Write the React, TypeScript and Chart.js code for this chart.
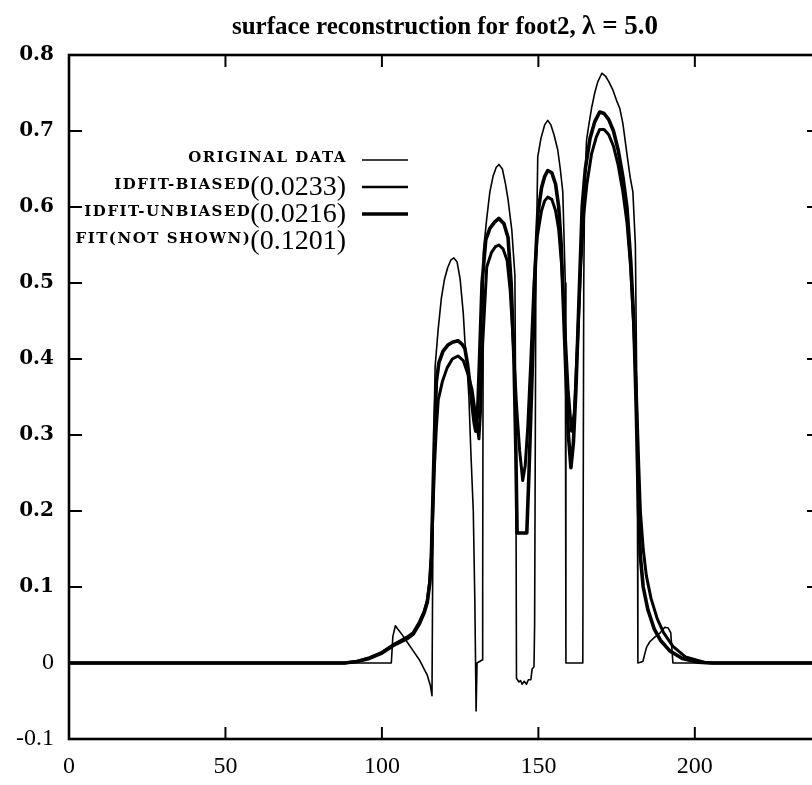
import React, { useEffect, useRef } from 'react';
import { Chart, registerables } from 'chart.js';

Chart.register(...registerables);

const TITLE_TEXT = 'surface reconstruction for foot2, ';
const TITLE_MATH = 'λ = 5.0';

const X_TICKS = [0, 50, 100, 150, 200];
const Y_TICKS = [-0.1, 0, 0.1, 0.2, 0.3, 0.4, 0.5, 0.6, 0.7, 0.8];

const LEGEND_NAMES = ['ORIGINAL DATA', 'IDFIT-BIASED', 'IDFIT-UNBIASED', 'FIT(NOT SHOWN)'];
const LEGEND_SCORES = ['', '(0.0233)', '(0.0216)', '(0.1201)'];

// original data (thin line)
const originalX = [0, 103, 103.5, 104.3, 105, 106.5, 108, 110, 112, 113.5, 114.5, 115.5, 116, 116.2, 116.6, 117, 118, 119, 120, 121, 122, 123, 124, 125, 126, 126.5, 127.2, 127.8, 128.4, 129.2, 129.7, 130.1, 130.4, 132.0, 132.2, 132.4, 133.5, 134.5, 135.5, 136.5, 137.4, 138.5, 139.5, 140.3, 141.5, 142.5, 142.8, 143, 143.8, 144.3, 144.8, 145.5, 146.2, 146.8, 147.6, 148, 148.6, 148.8, 149.2, 149.8, 150.8, 152, 153, 154, 155, 156.2, 157, 157.8, 158.6, 158.8, 164.2, 164.5, 164.8, 165.4, 166.2, 167, 168, 169, 170.3, 171.5, 172.5, 173.8, 175, 176, 177, 178.3, 179.3, 180.2, 181, 181.6, 181.8, 183.4, 184, 184.6, 185.6, 187.2, 189, 190.4, 191.5, 192.3, 193, 240];
const originalY = [0, 0, 0.035, 0.049, 0.045, 0.037, 0.028, 0.016, 0.004, -0.008, -0.016, -0.03, -0.043, 0.1, 0.3, 0.39, 0.44, 0.48, 0.505, 0.52, 0.53, 0.533, 0.528, 0.505, 0.46, 0.425, 0.39, 0.35, 0.28, 0.2, 0.08, -0.063, 0.0, 0.004, 0.1, 0.54, 0.585, 0.62, 0.64, 0.652, 0.656, 0.65, 0.63, 0.61, 0.57, 0.51, 0.3, -0.02, -0.025, -0.023, -0.028, -0.024, -0.028, -0.022, -0.022, -0.008, -0.005, 0.05, 0.5, 0.666, 0.69, 0.708, 0.714, 0.708, 0.695, 0.675, 0.65, 0.62, 0.5, 0, 0, 0.5, 0.63, 0.688, 0.71, 0.73, 0.75, 0.765, 0.776, 0.772, 0.765, 0.754, 0.74, 0.73, 0.71, 0.67, 0.64, 0.62, 0.55, 0.3, 0, 0.002, 0.012, 0.021, 0.028, 0.034, 0.04, 0.047, 0.046, 0.04, 0, 0];

// IDFIT-BIASED (lower peaks)
const biasedX = [0, 88, 92, 96, 100, 104, 108, 110, 112, 113.5, 114.5, 115.3, 115.8, 116.3, 116.8, 117.4, 118, 119.3, 120.8, 122.5, 124.3, 126, 127.5, 128.8, 129.8, 130.5, 131, 131.5, 132.2, 133.5, 135, 136.3, 137.4, 138.7, 140, 141, 142, 143, 144, 145, 145.8, 146.6, 147.6, 148.6, 149.6, 151, 152, 153, 154.3, 155.5, 156.5, 157.5, 158.5, 159.5, 160.6, 161.5, 162.5, 163.5, 164.5, 165.5, 167, 168.5, 169.6, 171, 172.5, 174, 175.5, 177, 178.3, 179.5, 180.5, 181.3, 182, 182.6, 183.5, 184.5, 186, 188, 190, 193, 197, 203, 206, 240];
const biasedY = [0, 0, 0.002, 0.007, 0.014, 0.025, 0.034, 0.04, 0.054, 0.068, 0.082, 0.108, 0.14, 0.2, 0.26, 0.31, 0.346, 0.37, 0.388, 0.4, 0.404, 0.398, 0.38, 0.36, 0.33, 0.31, 0.295, 0.33, 0.42, 0.521, 0.54, 0.548, 0.55, 0.545, 0.53, 0.49, 0.42, 0.34, 0.28, 0.24, 0.26, 0.31, 0.4, 0.5, 0.56, 0.595, 0.608, 0.613, 0.61, 0.595, 0.57, 0.52, 0.44, 0.36, 0.305, 0.33, 0.42, 0.52, 0.59, 0.63, 0.67, 0.692, 0.702, 0.702, 0.695, 0.68, 0.655, 0.62, 0.58, 0.52, 0.44, 0.36, 0.27, 0.2, 0.15, 0.115, 0.085, 0.058, 0.04, 0.022, 0.008, 0.001, 0, 0];

// IDFIT-UNBIASED (higher peaks)
const unbiasedX = [0, 88, 92, 96, 100, 104, 108, 110, 112, 113.5, 114.5, 115.3, 115.8, 116.3, 116.8, 117.4, 118.2, 119.5, 121, 122.5, 124.3, 125.5, 126.5, 127.3, 128.1, 128.8, 129.5, 130, 130.6, 131.2, 132, 133.2, 134.5, 136, 137.4, 139, 140.3, 141.3, 142.2, 142.8, 143.2, 146.3, 147, 148, 149, 149.8, 151, 152, 153, 154.3, 155.5, 156.5, 157.3, 158, 158.8, 159.6, 160.4, 161.2, 162, 163, 164, 165, 166.5, 168, 169.6, 171, 172.5, 174, 175.5, 177, 178.3, 179.5, 180.5, 181.3, 182, 182.6, 183.5, 185, 187, 189, 192, 196, 201, 205, 240];
const unbiasedY = [0, 0, 0.002, 0.006, 0.013, 0.024, 0.032, 0.038, 0.052, 0.066, 0.08, 0.105, 0.14, 0.22, 0.3, 0.37, 0.395, 0.41, 0.418, 0.422, 0.424, 0.42, 0.414, 0.395, 0.368, 0.34, 0.316, 0.305, 0.33, 0.4, 0.5, 0.557, 0.572, 0.58, 0.585, 0.578, 0.56, 0.5, 0.4, 0.28, 0.171, 0.171, 0.25, 0.38, 0.52, 0.59, 0.625, 0.64, 0.648, 0.645, 0.63, 0.6, 0.55, 0.47, 0.38, 0.3, 0.257, 0.29, 0.36, 0.48, 0.6, 0.65, 0.69, 0.712, 0.725, 0.723, 0.715, 0.7, 0.675, 0.64, 0.6, 0.53, 0.45, 0.33, 0.2, 0.14, 0.1, 0.07, 0.045, 0.03, 0.016, 0.006, 0.001, 0, 0];

const zip = (xs: number[], ys: number[]) => xs.map((x, i) => ({ x, y: ys[i] }));

const LINE_WIDTHS = [1.6, 3.0, 3.6];
const LEGEND_LINE_WIDTHS = [1.6, 2.6, 3.4];

const decorPlugin = {
  id: 'decor',
  afterDraw(chart: any) {
    const { ctx, chartArea: a, scales } = chart;
    ctx.save();
    ctx.strokeStyle = '#000';
    ctx.fillStyle = '#000';
    ctx.lineCap = 'butt';
    const seg = (x1: number, y1: number, x2: number, y2: number) => {
      ctx.beginPath();
      ctx.moveTo(x1, y1);
      ctx.lineTo(x2, y2);
      ctx.stroke();
    };
    // frame
    ctx.lineWidth = 2.6;
    ctx.strokeRect(a.left, a.top, a.right - a.left, a.bottom - a.top);
    // inward ticks
    ctx.lineWidth = 2;
    scales.x.ticks.forEach((t: any) => {
      const px = scales.x.getPixelForValue(t.value);
      if (px <= a.left + 2 || px >= a.right - 2) return;
      seg(px, a.bottom, px, a.bottom - 12);
      seg(px, a.top, px, a.top + 12);
    });
    scales.y.ticks.forEach((t: any) => {
      const py = scales.y.getPixelForValue(t.value);
      if (py <= a.top + 2 || py >= a.bottom - 2) return;
      seg(a.left, py, a.left + 13, py);
      seg(a.right, py, a.right - 13, py);
    });
    // title
    ctx.textBaseline = 'alphabetic';
    ctx.textAlign = 'left';
    const f1 = 'bold 25px "Liberation Serif"';
    const f2 = 'bold 27px "Liberation Serif"';
    ctx.font = f1;
    const w1 = ctx.measureText(TITLE_TEXT).width;
    ctx.font = f2;
    const w2 = ctx.measureText(TITLE_MATH).width;
    const cx = 445;
    const x0 = cx - (w1 + w2) / 2;
    const ty = 34;
    ctx.font = f1;
    ctx.fillText(TITLE_TEXT, x0, ty);
    ctx.font = f2;
    ctx.fillText(TITLE_MATH, x0 + w1, ty);
    // legend
    const rowY = [160, 187, 214, 241];
    const textRight = 346;
    LEGEND_NAMES.forEach((name, i) => {
      const y = rowY[i];
      const score = LEGEND_SCORES[i];
      ctx.textAlign = 'right';
      (ctx as any).letterSpacing = '0px';
      ctx.font = '28px "Liberation Serif"';
      const sw = score ? ctx.measureText(score).width : 0;
      if (score) ctx.fillText(score, textRight, y + 8);
      ctx.font = 'bold 15px "DejaVu Serif"';
      (ctx as any).letterSpacing = '1.5px';
      ctx.fillText(name, textRight - sw + 1, y + 2);
      (ctx as any).letterSpacing = '0px';
      if (i < LEGEND_LINE_WIDTHS.length) {
        ctx.lineWidth = LEGEND_LINE_WIDTHS[i];
        seg(362, y, 408, y);
      }
    });
    ctx.restore();
  },
};

export default function App() {
  const ref = useRef<HTMLCanvasElement | null>(null);
  useEffect(() => {
    if (!ref.current) return;
    const series = [zip(originalX, originalY), zip(biasedX, biasedY), zip(unbiasedX, unbiasedY)];
    const chart = new Chart(ref.current, {
      type: 'scatter',
      data: {
        datasets: series.map((d, i) => ({
          label: LEGEND_NAMES[i],
          data: d,
          showLine: true,
          borderColor: '#000',
          backgroundColor: '#000',
          borderWidth: LINE_WIDTHS[i],
          pointRadius: 0,
          tension: 0,
          borderJoinStyle: 'round' as const,
        })),
      },
      options: {
        responsive: false,
        animation: false,
        events: [],
        layout: { padding: { left: 8, top: 55, right: 10, bottom: 0 } },
        plugins: { legend: { display: false }, tooltip: { enabled: false }, title: { display: false } },
        scales: {
          x: {
            type: 'linear',
            min: 0,
            max: 240,
            afterBuildTicks: (s: any) => { s.ticks = X_TICKS.map((v) => ({ value: v })); },
            afterFit: (s: any) => { s.height = 46; },
            grid: { display: false, drawTicks: false },
            border: { display: false },
            ticks: {
              padding: 13,
              color: '#000',
              maxRotation: 0,
              autoSkip: false,
              font: { family: 'Liberation Serif', size: 24 },
              callback: (v: any) => String(v),
            },
          },
          y: {
            type: 'linear',
            min: -0.1,
            max: 0.8,
            afterBuildTicks: (s: any) => { s.ticks = Y_TICKS.map((v) => ({ value: v })); },
            afterFit: (s: any) => { s.width = 61; },
            grid: { display: false, drawTicks: false },
            border: { display: false },
            ticks: {
              padding: 15,
              color: '#000',
              autoSkip: false,
              font: (c: any) => {
                const v = c.tick ? c.tick.value : 0;
                return v > 0.05
                  ? { family: 'DejaVu Serif', weight: 'bold', size: 20 }
                  : { family: 'Liberation Serif', size: 24 };
              },
              callback: (v: any) => (Math.abs(v) < 1e-9 ? '0' : Number(v).toFixed(1)),
            },
          },
        },
      },
      plugins: [decorPlugin],
    });
    return () => chart.destroy();
  }, []);
  return (
    <div style={{ position: 'fixed', left: 0, top: 0, width: 812, height: 785, overflow: 'hidden', background: '#fff' }}>
      <canvas ref={ref} width={830} height={785} style={{ display: 'block' }} />
    </div>
  );
}
